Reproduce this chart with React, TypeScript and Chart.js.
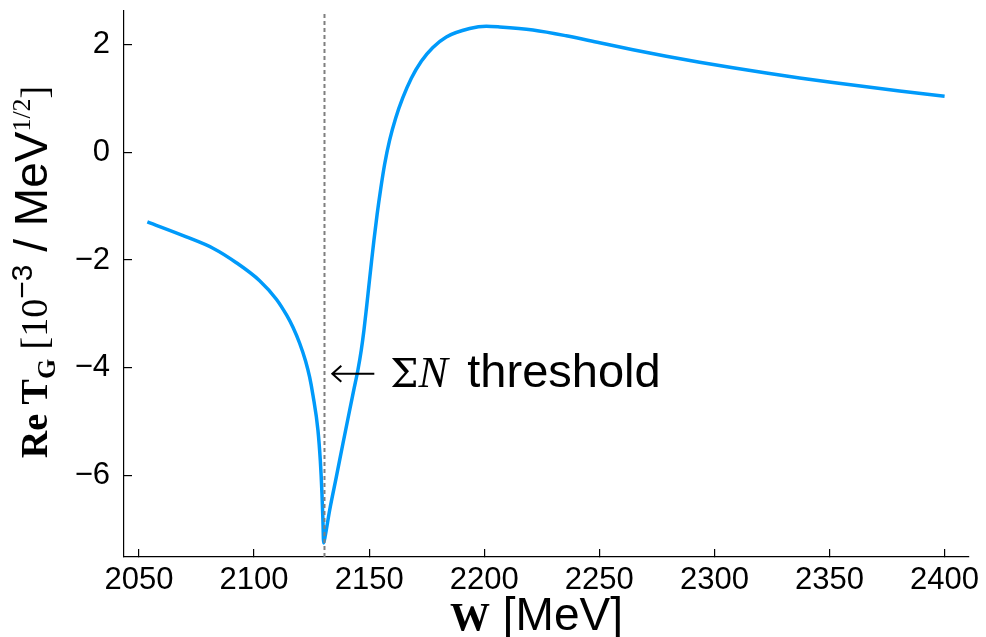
import React, { useEffect, useRef } from "react";
import { Chart, registerables } from "chart.js";

Chart.register(...registerables);

// ---- data ----
const W_MEV = [
  2053.65, 2070.59, 2082.15, 2092.31, 2102.43, 2109.69, 2114.16, 2116.90, 2119.81, 2122.41,
  2124.15, 2125.59, 2127.76, 2128.80, 2129.50, 2129.93, 2130.23,
  2130.89, 2132.84, 2135.75, 2138.62, 2141.53, 2143.40, 2145.18, 2146.57, 2147.74,
  2148.83, 2149.91, 2151.00, 2152.08, 2153.47, 2155.00, 2156.73, 2158.90, 2161.51, 2164.55,
  2168.33, 2172.67, 2177.58, 2183.53, 2193.66, 2200.91, 2206.69, 2221.15, 2235.66, 2250.13,
  2264.59, 2279.10, 2293.57, 2308.03, 2322.54, 2337.01, 2351.47, 2365.98, 2380.45, 2400.0,
];
const RE_TG = [
  -1.293, -1.571, -1.781, -2.050, -2.384, -2.727, -3.024, -3.247, -3.544, -3.878,
  -4.174, -4.508, -5.158, -5.733, -6.327, -6.846, -7.249,
  -7.124, -6.642, -6.024, -5.404, -4.787, -4.397, -4.026, -3.673, -3.302,
  -2.894, -2.468, -2.041, -1.633, -1.150, -0.686, -0.223, 0.223, 0.631, 1.002,
  1.373, 1.688, 1.939, 2.139, 2.295, 2.338, 2.325, 2.267, 2.160, 2.030,
  1.902, 1.781, 1.670, 1.566, 1.469, 1.378, 1.293, 1.213, 1.137, 1.039,
];
const THRESHOLD_W = 2130.6;
const X_TICKS = [2050, 2100, 2150, 2200, 2250, 2300, 2350, 2400];
const Y_TICKS = [-6, -4, -2, 0, 2];
const X_RANGE = [2043.5, 2410.6];
const Y_RANGE = [-7.51, 2.62];
const ANNOT_AT = { x: 2134.0, y: -4.11 };
const ANNOT_LABEL = "threshold";

const SANS = "'Liberation Sans', Arial, sans-serif";
const SERIF = "'Liberation Serif', 'Times New Roman', serif";
const MATH = "'DejaVu Serif', serif";

type Seg = { text: string; font: string; dy?: number; dx?: number; w?: number };

function drawRich(ctx: CanvasRenderingContext2D, segs: Seg[], x: number, y: number) {
  let total = 0;
  for (const s of segs) {
    ctx.font = s.font;
    s.w = ctx.measureText(s.text).width;
    total += s.w + (s.dx || 0);
  }
  let cx = x - total / 2;
  ctx.textAlign = "left";
  ctx.textBaseline = "alphabetic";
  for (const s of segs) {
    ctx.font = s.font;
    cx += s.dx || 0;
    ctx.fillText(s.text, cx, y + (s.dy || 0));
    cx += s.w || 0;
  }
}

const decorPlugin = {
  id: "decor",
  afterDraw(chart: any) {
    const { ctx, chartArea, scales } = chart;
    ctx.save();
    ctx.fillStyle = "#000";
    ctx.strokeStyle = "#000";

    const FS = 38; // serif parts
    const FN = 46; // sans parts
    const SUB = 26;

    // x title
    const cxMid = (chartArea.left + chartArea.right) / 2 - 10;
    drawRich(
      ctx,
      [
        { text: "W", font: `bold ${FS + 2}px ${SERIF}` },
        { text: " [MeV]", font: `${FN}px ${SANS}` },
      ],
      cxMid,
      630
    );

    // y title (rotated)
    const cyMid = (chartArea.top + chartArea.bottom) / 2 - 12;
    ctx.save();
    ctx.translate(47, cyMid);
    ctx.rotate(-Math.PI / 2);
    drawRich(
      ctx,
      [
        { text: "Re", font: `bold ${FS}px ${SERIF}` },
        { text: " T", font: `bold ${FS}px ${SERIF}` },
        { text: "G", font: `bold ${SUB}px ${SERIF}`, dy: 8 },
        { text: " [10", font: `${FS}px ${SERIF}` },
        { text: "−3", font: `${30}px ${SANS}`, dy: -15 },
        { text: " / MeV", font: `${FN}px ${SANS}` },
        { text: "1/2", font: `${SUB}px ${SERIF}`, dy: -17 },
        { text: "]", font: `${FS}px ${SERIF}` },
      ],
      0,
      0
    );
    ctx.restore();

    // annotation: arrow + label
    const ax = scales.x.getPixelForValue(ANNOT_AT.x);
    const ay = scales.y.getPixelForValue(ANNOT_AT.y);
    ctx.lineWidth = 2;
    ctx.beginPath();
    ctx.moveTo(ax, ay);
    ctx.lineTo(ax + 42, ay);
    ctx.moveTo(ax + 9, ay - 8);
    ctx.lineTo(ax, ay);
    ctx.lineTo(ax + 9, ay + 8);
    ctx.stroke();

    const base = ay + 13.5;
    let tx = ax + 58;
    ctx.textAlign = "left";
    ctx.textBaseline = "alphabetic";
    ctx.font = `40px ${MATH}`;
    ctx.fillText("Σ", tx, base);
    tx += ctx.measureText("Σ").width;
    ctx.font = `italic 44px ${SERIF}`;
    ctx.fillText("N", tx, base);
    tx = ax + 135;
    ctx.font = `47px ${SANS}`;
    ctx.fillText(ANNOT_LABEL, tx, base);
    ctx.restore();
  },
};

export default function App() {
  const ref = useRef<HTMLCanvasElement | null>(null);
  useEffect(() => {
    if (!ref.current) return;
    const curve = W_MEV.map((w, i) => ({ x: w, y: RE_TG[i] }));
    const vline = [
      { x: THRESHOLD_W, y: Y_RANGE[0] },
      { x: THRESHOLD_W, y: Y_RANGE[1] },
    ];
    const gridOpts = {
      display: true,
      drawOnChartArea: false,
      drawTicks: true,
      tickLength: -8,
      color: "#000",
      lineWidth: 1.2,
    };
    const chart = new Chart(ref.current, {
      type: "line",
      data: {
        datasets: [
          {
            data: vline,
            borderColor: "#7f7f7f",
            borderWidth: 2,
            borderDash: [4, 3],
            pointRadius: 0,
            order: 0,
          },
          {
            data: curve,
            borderColor: "#009AFA",
            borderWidth: 3.5,
            pointRadius: 0,
            cubicInterpolationMode: "monotone",
            order: 1,
          },
        ],
      },
      options: {
        animation: false,
        responsive: true,
        maintainAspectRatio: false,
        layout: { padding: { top: 11, right: 17, left: 0, bottom: 0 } },
        plugins: { legend: { display: false }, tooltip: { enabled: false } },
        scales: {
          x: {
            type: "linear",
            min: X_RANGE[0],
            max: X_RANGE[1],
            afterBuildTicks: (s: any) => {
              s.ticks = X_TICKS.map((v) => ({ value: v }));
            },
            afterFit: (s: any) => {
              s.height = 80;
              s.paddingLeft = 0;
              s.paddingRight = 0;
            },
            grid: gridOpts,
            border: { display: true, color: "#000", width: 1.2 },
            ticks: {
              padding: 13,
              color: "#000",
              font: { family: SANS, size: 31 },
              maxRotation: 0,
              autoSkip: false,
              callback: (v: any) => String(v),
            },
          },
          y: {
            type: "linear",
            min: Y_RANGE[0],
            max: Y_RANGE[1],
            afterBuildTicks: (s: any) => {
              s.ticks = Y_TICKS.map((v) => ({ value: v }));
            },
            afterFit: (s: any) => {
              s.width = 124;
              s.paddingTop = 0;
              s.paddingBottom = 0;
            },
            grid: gridOpts,
            border: { display: true, color: "#000", width: 1.2 },
            ticks: {
              padding: 22,
              color: "#000",
              font: { family: SANS, size: 31 },
              autoSkip: false,
              callback: (v: any) => (v < 0 ? "−" + String(-v) : String(v)),
            },
          },
        },
      },
      plugins: [decorPlugin],
    });
    return () => chart.destroy();
  }, []);

  return (
    <div style={{ position: "fixed", left: 0, top: 0, width: 986, height: 637, background: "#fff" }}>
      <canvas ref={ref} />
    </div>
  );
}
